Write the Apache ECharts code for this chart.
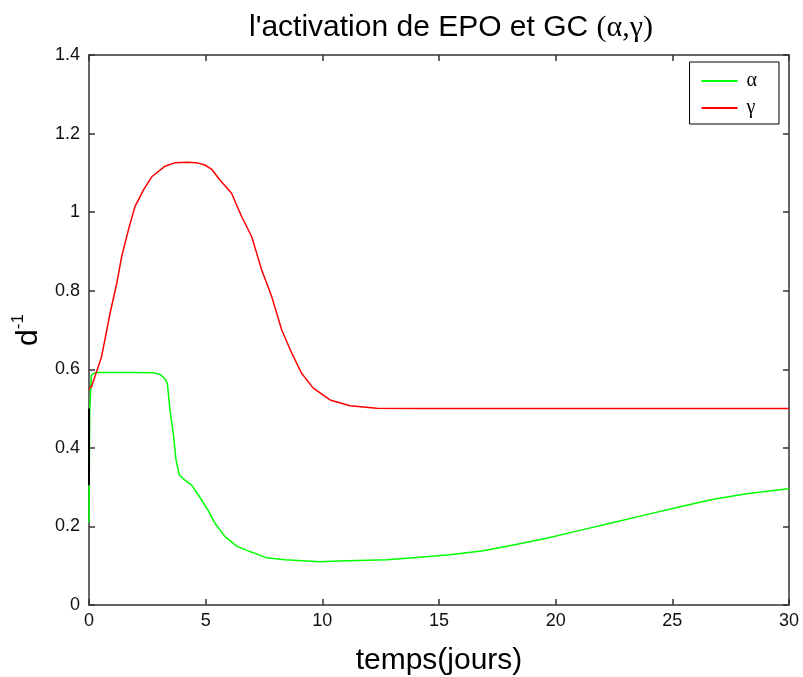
<!DOCTYPE html>
<html>
<head>
<meta charset="utf-8">
<script src="https://cdn.jsdelivr.net/npm/echarts@6/dist/echarts.min.js"></script>
<style>html,body{margin:0;padding:0;background:#fff;}#c{width:803px;height:677px;}</style>
</head>
<body>
<div id="c"></div>
<script>
var xTicks = [0, 5, 10, 15, 20, 25, 30];
var yTicks = [0, 0.2, 0.4, 0.6, 0.8, 1, 1.2, 1.4];

var alphaData = [
  [0,0.21],[0.03,0.49],[0.1,0.585],[0.3,0.592],[1,0.592],[2,0.592],[2.76,0.591],[3.04,0.587],
  [3.26,0.576],[3.36,0.563],[3.47,0.496],[3.61,0.437],[3.73,0.369],[3.87,0.331],[4.11,0.318],
  [4.4,0.305],[4.69,0.28],[5.11,0.24],[5.4,0.208],[5.83,0.174],[6.33,0.15],[6.9,0.136],
  [7.61,0.12],[8.4,0.115],[9.9,0.11],[10.69,0.112],[12.76,0.115],[14.04,0.121],[15.47,0.128],
  [16.9,0.138],[18.19,0.153],[19.61,0.17],[21.04,0.19],[22.47,0.21],[23.9,0.23],[25.33,0.25],
  [26.76,0.269],[28.19,0.283],[29.97,0.296],[30,0.297]
];
var gammaData = [
  [0,0.55],[0.11,0.556],[0.54,0.632],[0.9,0.742],[1.19,0.819],[1.4,0.887],[1.69,0.955],
  [1.97,1.014],[2.33,1.056],[2.69,1.09],[3.26,1.117],[3.69,1.126],[4.2,1.127],[4.6,1.126],
  [4.97,1.12],[5.26,1.109],[5.61,1.082],[6.11,1.048],[6.54,0.989],[6.97,0.938],[7.4,0.853],
  [7.83,0.785],[8.26,0.70],[8.69,0.641],[9.11,0.59],[9.61,0.552],[10.33,0.522],[11.19,0.507],
  [12.33,0.501],[14,0.5],[20,0.5],[30,0.5]
];
var blackData = [[0,0.305],[0,0.5]];

var chart = echarts.init(document.getElementById('c'), null, {renderer:'canvas'});
var axisCol = '#333';
chart.setOption({
  animation: false,
  backgroundColor: '#fff',
  title: {
    text: "{a|l'activation de EPO et GC }{g|(α,γ)}",
    left: 446, top: 8, textAlign: 'center',
    textStyle: {
      rich: {
        a: {fontFamily: 'Liberation Sans', fontSize: 30, fontWeight: 'normal', color: '#000'},
        g: {fontFamily: 'Liberation Serif', fontSize: 30, fontWeight: 'normal', color: '#000'}
      }
    }
  },
  legend: {
    right: 24, top: 62,
    orient: 'vertical',
    data: ['α', 'γ'],
    itemWidth: 36, itemHeight: 2, itemGap: 7,
    padding: [9, 22, 6, 11],
    borderColor: '#000', borderWidth: 1,
    backgroundColor: '#fff',
    textStyle: {fontFamily: 'Liberation Serif', fontSize: 20, color: '#000', padding: [0,0,0,4]}
  },
  grid: {left: 89, right: 14, top: 55, bottom: 72, containLabel: false, outerBoundsMode: 'none'},
  xAxis: [{
    type: 'value', min: 0, max: 30, interval: 5,
    name: 'temps(jours)', nameLocation: 'middle', nameGap: 41,
    nameTextStyle: {fontFamily: 'Liberation Sans', fontSize: 30, color: '#000'},
    axisLine: {show: true, onZero: false, lineStyle: {color: axisCol, width: 1.5}},
    axisTick: {show: true, inside: true, length: 6, lineStyle: {color: axisCol, width: 1.5}},
    axisLabel: {fontFamily: 'Liberation Sans', fontSize: 18, color: '#111', margin: 7},
    splitLine: {show: false}
  }, {
    type: 'value', min: 0, max: 30, interval: 5, position: 'top',
    axisLine: {show: true, onZero: false, lineStyle: {color: axisCol, width: 1.5}},
    axisTick: {show: true, inside: true, length: 6, lineStyle: {color: axisCol, width: 1.5}},
    axisLabel: {show: false}, splitLine: {show: false}
  }],
  yAxis: [{
    type: 'value', min: 0, max: 1.4, interval: 0.2,
    name: '{d|d}{s|-1}', nameLocation: 'middle', nameGap: 42, nameRotate: 90,
    nameTextStyle: {
      rich: {
        d: {fontFamily: 'Liberation Sans', fontSize: 30, color: '#000', verticalAlign: 'bottom', lineHeight: 34},
        s: {fontFamily: 'Liberation Sans', fontSize: 17, color: '#000', verticalAlign: 'top', lineHeight: 34}
      }
    },
    axisLine: {show: true, onZero: false, lineStyle: {color: axisCol, width: 1.5}},
    axisTick: {show: true, inside: true, length: 6, lineStyle: {color: axisCol, width: 1.5}},
    axisLabel: {fontFamily: 'Liberation Sans', fontSize: 18, color: '#111', margin: 9},
    splitLine: {show: false}
  }, {
    type: 'value', min: 0, max: 1.4, interval: 0.2, position: 'right',
    axisLine: {show: true, onZero: false, lineStyle: {color: axisCol, width: 1.5}},
    axisTick: {show: true, inside: true, length: 6, lineStyle: {color: axisCol, width: 1.5}},
    axisLabel: {show: false}, splitLine: {show: false}
  }],
  series: [
    {name: 'α', type: 'line', data: alphaData, symbol: 'none', smooth: false,
     lineStyle: {color: '#00ff00', width: 1.5}, itemStyle: {color: '#00ff00'}, z: 3},
    {name: 'γ', type: 'line', data: gammaData, symbol: 'none', smooth: false,
     lineStyle: {color: '#ff0000', width: 1.5}, itemStyle: {color: '#ff0000'}, z: 4},
    {name: 'k', type: 'line', data: blackData, symbol: 'none',
     lineStyle: {color: '#000', width: 2}, itemStyle: {color: '#000'}, z: 5}
  ]
});
</script>
</body>
</html>
